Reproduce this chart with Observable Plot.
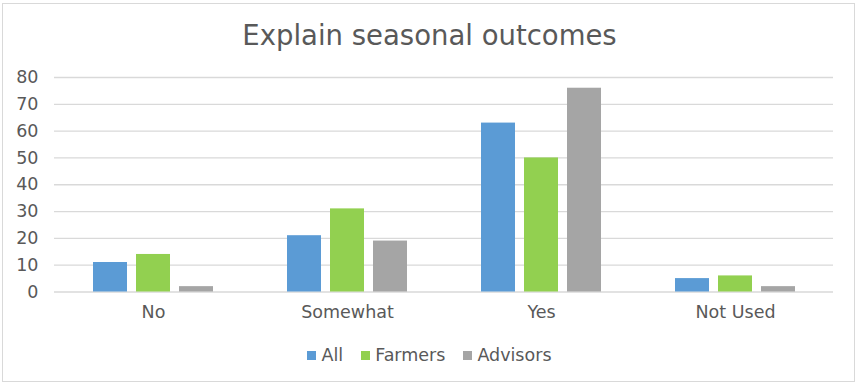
<!DOCTYPE html>
<html>
<head>
<meta charset="utf-8">
<script src="https://cdn.jsdelivr.net/npm/d3@7"></script>
<script src="https://cdn.jsdelivr.net/npm/@observablehq/plot@0.6"></script>
<style>
  html, body { margin: 0; padding: 0; background: #fff; }
  body { width: 859px; height: 386px; position: relative; overflow: hidden; font-family: "DejaVu Sans", Verdana, sans-serif; color: #595959; }
  #frame { position: absolute; left: 2px; top: 3px; width: 851px; height: 377px; border: 1px solid #d9d9d9; box-sizing: content-box; }
  #title { position: absolute; left: 0; top: 17px; width: 859px; text-align: center; font-size: 27.5px; line-height: 36px; color: #595959; }
  #chart { position: absolute; left: 0; top: 60px; }
  #legend { position: absolute; left: 0; top: 343px; width: 859px; display: flex; justify-content: center; font-size: 17.5px; line-height: 24px; color: #595959; }
  .item { display: flex; align-items: center; margin: 0 9px; }
  .sw { width: 9px; height: 9px; margin-right: 5px; }
</style>
</head>
<body>
<div id="frame"></div>
<div id="title">Explain seasonal outcomes</div>
<div id="chart"></div>
<div id="legend"></div>
<script>
const categories = ["No", "Somewhat", "Yes", "Not Used"];
const seriesNames = ["All", "Farmers", "Advisors"];
const allValues = [11, 21, 63, 5];
const farmersValues = [14, 31, 50, 6];
const advisorsValues = [2, 19, 76, 2];
const seriesColors = ["#5B9BD5", "#92D050", "#A5A5A5"];
const yTicks = [0, 10, 20, 30, 40, 50, 60, 70, 80];

const seriesValues = [allValues, farmersValues, advisorsValues];
const rowsBySeries = seriesNames.map((s, i) =>
  categories.map((c, j) => ({category: c, series: s, value: seriesValues[i][j]}))
);

const step = 43; // offset between grouped bars, px
const plot = Plot.plot({
  width: 859,
  height: 270,
  marginLeft: 54,
  marginRight: 26,
  marginTop: 17,
  marginBottom: 38.5,
  style: {fontFamily: "'DejaVu Sans', Verdana, sans-serif", fontSize: "17.5px", color: "#595959", background: "transparent"},
  x: {domain: categories, paddingInner: 0.8254, paddingOuter: 0.4127, label: null},
  y: {domain: [0, 80], label: null},
  color: {domain: seriesNames, range: seriesColors},
  marks: [
    Plot.ruleY(yTicks, {stroke: "#d9d9d9", strokeWidth: 1.3}),
    ...rowsBySeries.map((rows, i) =>
      Plot.barY(rows, {x: "category", y: "value", fill: "series", dx: (i - 1) * step})
    ),
    Plot.axisY({ticks: yTicks, tickSize: 0, tickPadding: 16, label: null, fill: "#595959"}),
    Plot.axisX({tickSize: 0, tickPadding: 14, label: null, fill: "#595959"})
  ]
});
document.getElementById("chart").appendChild(plot);

const legend = document.getElementById("legend");
seriesNames.forEach((s, i) => {
  const item = document.createElement("div");
  item.className = "item";
  const sw = document.createElement("span");
  sw.className = "sw";
  sw.style.background = seriesColors[i];
  item.appendChild(sw);
  item.appendChild(document.createTextNode(s));
  legend.appendChild(item);
});
</script>
</body>
</html>
